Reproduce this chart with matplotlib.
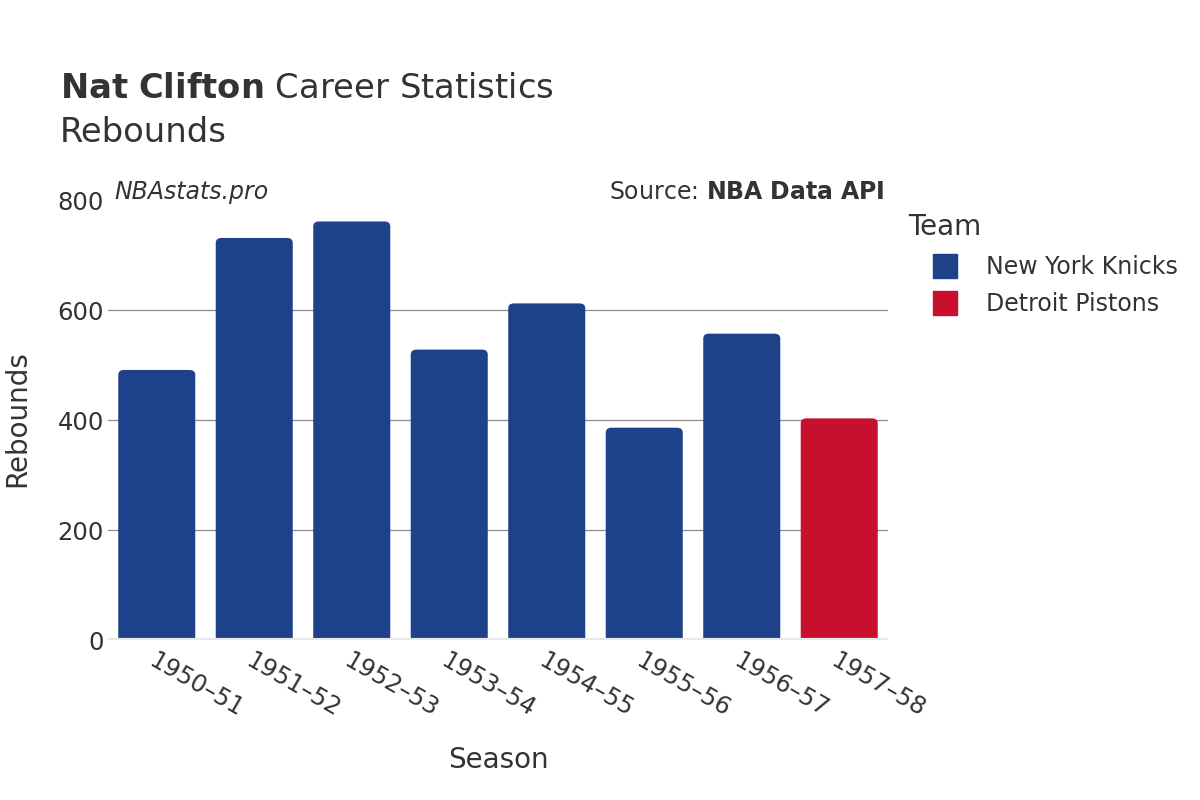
import matplotlib.pyplot as plt
from matplotlib.patches import FancyBboxPatch
from matplotlib.lines import Line2D

# ── data ─────────────────────────────────────────
seasons = ["1950–51", "1951–52", "1952–53", "1953–54",
           "1954–55", "1955–56", "1956–57", "1957–58"]
rebounds = [491, 731, 761, 528, 612, 386, 557, 403]
teams = ["New York Knicks"] * 7 + ["Detroit Pistons"]

team_colors = {"New York Knicks": "#1d428a", "Detroit Pistons": "#c8102e"}
TXT = "#333333"

plt.rcParams['font.family'] = ['DejaVu Sans']

fig = plt.figure(figsize=(12, 8), dpi=100)
ax = fig.add_axes([0.09, 0.2, 0.65, 0.55])

x = list(range(len(seasons)))
colors = [team_colors[t] for t in teams]
bars = ax.bar(x, rebounds, width=0.79, color=colors, zorder=3)

# rounded top corners (bottom rounding is pushed below 0 and clipped)
BW = 0.79
for b, c in zip(bars, colors):
    b.set_visible(False)
    p = FancyBboxPatch((b.get_x(), -30), BW, b.get_height() + 30,
                       boxstyle="round,pad=0,rounding_size=0.06",
                       mutation_aspect=150, facecolor=c, edgecolor="none",
                       zorder=3, clip_on=True)
    ax.add_patch(p)

ax.set_xlim(-0.5, len(seasons) - 0.5)
ax.set_ylim(0, 800)
ax.set_yticks([0, 200, 400, 600, 800])
ax.set_yticklabels(["0", "200", "400", "600", "800"])
ax.set_xticks(x)
ax.set_xticklabels(seasons, rotation=-30, ha="left", rotation_mode="anchor")

for y in [200, 400, 600]:
    ax.axhline(y, color="#8c8c8c", linewidth=0.9, zorder=1)
ax.axhline(0, color="#e8e8e8", linewidth=3, zorder=4)

for s in ax.spines.values():
    s.set_visible(False)
ax.tick_params(axis="both", length=0, labelsize=17.5, colors=TXT)
ax.tick_params(axis="x", pad=6)
ax.tick_params(axis="y", pad=3)

ax.set_xlabel("Season", fontsize=20, color=TXT, labelpad=18)
fig.text(17 / 1200, 1 - 419 / 800, "Rebounds", fontsize=20, color=TXT,
         rotation=90, ha="center", va="center")

# ── titles ───────────────────────────────────────
fig.text(0.05, 0.889, r"$\bf{Nat\ Clifton}$ Career Statistics", fontsize=24.3, color=TXT,
         va="center")
fig.text(0.05, 0.835, "Rebounds", fontsize=24.3, color=TXT, va="center")

fig.text(0.095, 0.76, "NBAstats.pro", fontsize=17, color=TXT, style="italic", va="center")
fig.text(0.737, 0.76, r"Source: $\bf{NBA\ Data\ API}$", fontsize=17, color=TXT,
         ha="right", va="center")

# ── legend ───────────────────────────────────────
fig.text(908 / 1200, 1 - 227 / 800, "Team", fontsize=20, color=TXT, va="center")
handles = [Line2D([0], [0], marker="s", linestyle="none", markersize=17,
                  markerfacecolor=team_colors[t], markeredgecolor=team_colors[t], label=t)
           for t in ["New York Knicks", "Detroit Pistons"]]
leg = fig.legend(handles=handles, loc="upper left",
                 bbox_to_anchor=(0.76, 0.693), frameon=False,
                 fontsize=17, labelspacing=0.55,
                 handletextpad=0.75, borderaxespad=0)
for t in leg.get_texts():
    t.set_color(TXT)

plt.savefig("out.png", dpi=100)
plt.close()
